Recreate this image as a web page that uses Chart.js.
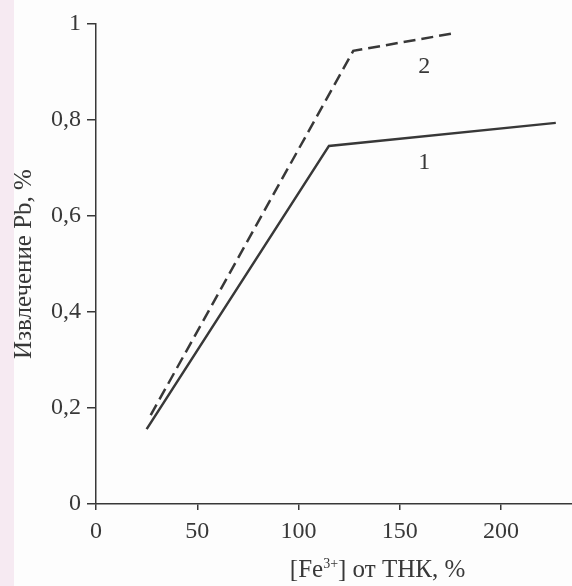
<!DOCTYPE html>
<html>
<head>
<meta charset="utf-8">
<script src="https://cdn.jsdelivr.net/npm/chart.js@4/dist/chart.umd.min.js"></script>
<style>
    body { margin: 0; background: #fff; }
    #wrap { width: 572px; height: 586px; position: relative;
            background: linear-gradient(to right, #f6eaf2 0, #f6eaf2 14px, #fdfdfd 14px); }
</style>
</head>
<body>
<div id="wrap"><canvas id="chart"></canvas></div>
<script>
// кривая 1 (сплошная) и кривая 2 (штриховая)
const fe1 = [25, 115, 227];
const pb1 = [0.156, 0.746, 0.794];
const fe2 = [27, 127, 177];
const pb2 = [0.185, 0.944, 0.981];

const curveLabels = ['1', '2'];
const labelX = [162, 162];
const labelY = [0.71, 0.91];

const xTitleX = 139;
const ink = '#383838';
const serif = "'Liberation Serif', 'Times New Roman', serif";

function toPoints(xs, ys) {
    return xs.map((x, i) => ({ x: x, y: ys[i] }));
}

const annotations = {
    id: 'annotations',
    afterDraw(chart) {
        const ctx = chart.ctx;
        const xs = chart.scales.x;
        const ys = chart.scales.y;
        ctx.save();
        ctx.fillStyle = ink;
        ctx.textAlign = 'center';
        ctx.textBaseline = 'middle';
        ctx.font = '24px ' + serif;
        curveLabels.forEach((t, i) => {
            ctx.fillText(t, xs.getPixelForValue(labelX[i]), ys.getPixelForValue(labelY[i]));
        });

        // подпись оси X с надстрочным индексом
        const parts = [['[Fe', 25, 0], ['3+', 14, -9], ['] от ТНК, %', 25, 0]];
        let w = 0;
        parts.forEach(p => { ctx.font = p[1] + 'px ' + serif; w += ctx.measureText(p[0]).width; });
        let x = xs.getPixelForValue(xTitleX) - w / 2;
        const y = xs.bottom - 9;
        ctx.textAlign = 'left';
        ctx.textBaseline = 'alphabetic';
        parts.forEach(p => {
            ctx.font = p[1] + 'px ' + serif;
            ctx.fillText(p[0], x, y + p[2]);
            x += ctx.measureText(p[0]).width;
        });
        ctx.restore();
    }
};

const ctx = document.getElementById('chart').getContext('2d');
new Chart(ctx, {
    type: 'scatter',
    data: {
        datasets: [{
            data: toPoints(fe1, pb1),
            showLine: true,
            borderColor: ink,
            borderWidth: 2.5,
            pointRadius: 0,
            tension: 0
        }, {
            data: toPoints(fe2, pb2),
            showLine: true,
            borderColor: ink,
            borderWidth: 2.5,
            borderDash: [12, 6],
            pointRadius: 0,
            tension: 0
        }]
    },
    options: {
        responsive: true,
        maintainAspectRatio: false,
        animation: false,
        layout: { padding: { top: 24, right: 0, bottom: 0, left: 9 } },
        plugins: {
            legend: { display: false },
            tooltip: { enabled: false }
        },
        scales: {
            x: {
                type: 'linear',
                min: 0,
                max: 235,
                afterFit: s => { s.height = 82; },
                border: { display: true, color: ink, width: 1.5 },
                grid: { drawOnChartArea: false, drawTicks: true, tickLength: 6, color: ink, lineWidth: 1.5 },
                ticks: {
                    stepSize: 50,
                    includeBounds: false,
                    padding: 7,
                    color: ink,
                    font: { family: serif, size: 24 },
                    maxRotation: 0
                }
            },
            y: {
                min: 0,
                max: 1,
                afterFit: s => { s.width = 87; },
                border: { display: true, color: ink, width: 1.5 },
                grid: { drawOnChartArea: false, drawTicks: true, tickLength: 9, color: ink, lineWidth: 1.5 },
                ticks: {
                    stepSize: 0.2,
                    padding: 6,
                    color: ink,
                    font: { family: serif, size: 24 },
                    callback: v => (Math.round(v * 10) / 10).toString().replace('.', ',')
                },
                title: {
                    display: true,
                    text: 'Извлечение Pb, %',
                    color: ink,
                    font: { family: serif, size: 25 },
                    padding: 0
                }
            }
        }
    },
    plugins: [annotations]
});
</script>
</body>
</html>
